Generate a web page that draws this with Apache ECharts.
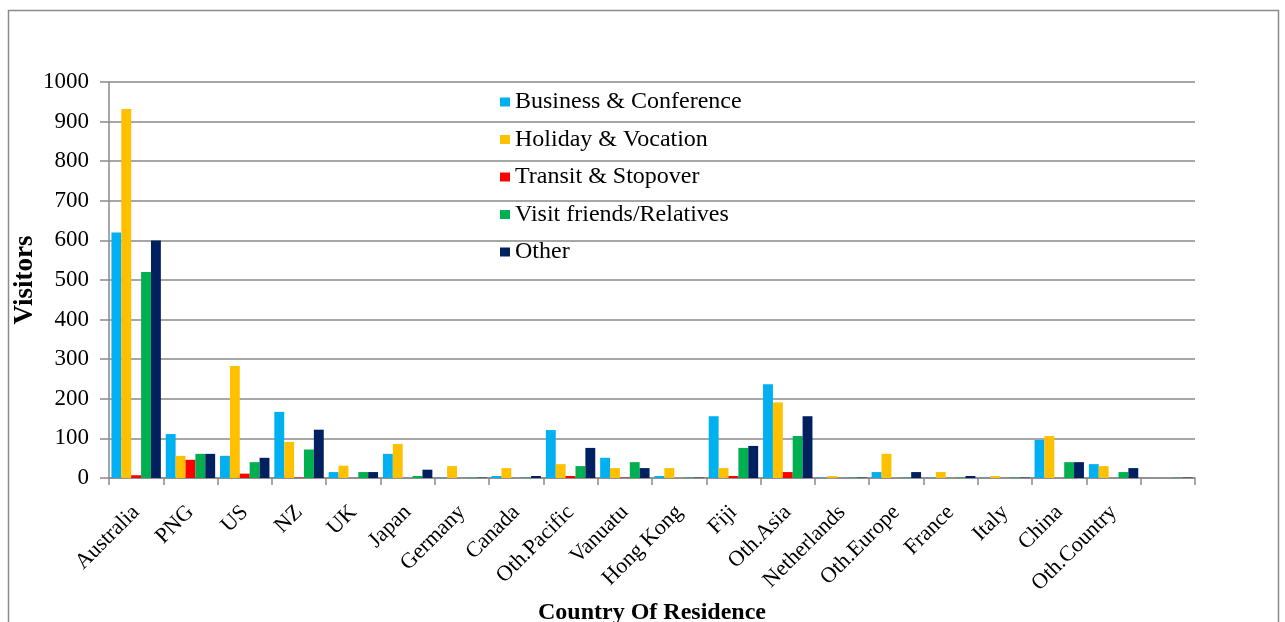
<!DOCTYPE html>
<html>
<head>
<meta charset="utf-8">
<script src="https://cdn.jsdelivr.net/npm/echarts@6/dist/echarts.min.js"></script>
<style>
html,body{margin:0;padding:0;background:#fff;}
#chart{width:1285px;height:622px;}
</style>
</head>
<body>
<div id="chart"></div>
<script>
const categories = ['Australia','PNG','US','NZ','UK','Japan','Germany','Canada','Oth.Pacific','Vanuatu','Hong Kong','Fiji','Oth.Asia','Netherlands','Oth.Europe','France','Italy','China','Oth.Country',''];
const seriesNames = ['Business & Conference','Holiday & Vocation','Transit & Stopover','Visit friends/Relatives','Other'];
const business = [620,111,56,167,15,61,1,5,121,51,5,156,237,1,15,1,1,96,35,0];
const holiday  = [932,56,283,91,31,86,30,25,35,25,25,25,191,5,61,15,5,106,30,0];
const transit  = [7,46,11,1,0,0,0,0,5,1,0,5,15,0,0,0,0,0,0,0];
const vfr      = [520,61,40,72,15,5,1,1,30,40,1,76,106,1,1,1,1,40,15,1];
const other    = [600,61,51,122,15,21,1,5,76,25,1,81,156,1,15,5,1,40,25,1];
const yTicks = {min:0, max:1000, interval:100};
const colors = ['#00B0F0','#FFC000','#FF0000','#00B050','#002060'];
const values = [business, holiday, transit, vfr, other];

const font = '"Liberation Serif","Times New Roman",serif';
const chart = echarts.init(document.getElementById('chart'));
chart.setOption({
  animation:false,
  color:colors,
  graphic:[{type:'rect',shape:{x:8.5,y:10.5,width:1270,height:700},style:{fill:'none',stroke:'#8a8a8a',lineWidth:1.5},silent:true}],
  legend:{
    orient:'vertical', left:495, top:85, itemGap:13.5, itemWidth:10, itemHeight:9,
    icon:'rect',
    textStyle:{fontFamily:font,fontSize:24,color:'#000',lineHeight:22},
    data:seriesNames
  },
  grid:{left:109,right:90,top:82,bottom:144,containLabel:false,outerBoundsMode:'none'},
  xAxis:{
    type:'category', data:categories,
    name:'Country Of Residence', nameLocation:'middle', nameGap:123, nameMoveOverlap:false,
    nameTextStyle:{fontFamily:font,fontSize:24,fontWeight:'bold',color:'#000'},
    axisLine:{lineStyle:{color:'#8a8a8a',width:1.5}},
    axisTick:{show:true,length:7,lineStyle:{color:'#8a8a8a',width:1.5}},
    axisLabel:{rotate:45,interval:0,margin:31,fontFamily:font,fontSize:22,color:'#000'}
  },
  yAxis:{
    type:'value', min:yTicks.min, max:yTicks.max, interval:yTicks.interval,
    name:'Visitors', nameLocation:'middle', nameGap:70, nameRotate:90, nameMoveOverlap:false,
    nameTextStyle:{fontFamily:font,fontSize:27,fontWeight:'bold',color:'#000'},
    axisLine:{show:true,lineStyle:{color:'#8a8a8a',width:1.5}},
    axisTick:{show:true,length:9,lineStyle:{color:'#8a8a8a',width:1.5}},
    axisLabel:{margin:20,fontFamily:font,fontSize:23,color:'#000',formatter:v=>String(v)},
    splitLine:{lineStyle:{color:'#8a8a8a',width:1.5}}
  },
  series:seriesNames.map((n,i)=>({
    name:n, type:'bar', data:values[i],
    barGap:'0%', barCategoryGap:'9%',
    itemStyle:{color:colors[i]}
  }))
});
</script>
</body>
</html>
